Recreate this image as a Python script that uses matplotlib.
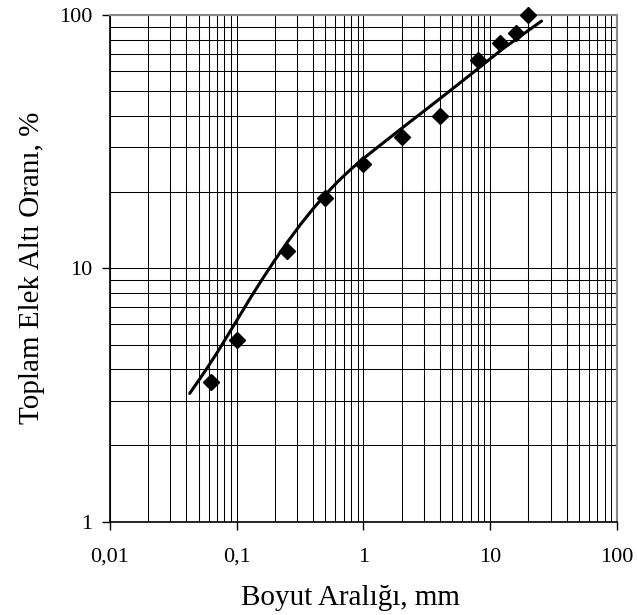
import matplotlib
matplotlib.use("Agg")
import matplotlib.pyplot as plt
from matplotlib.ticker import LogLocator, NullFormatter

plt.rcParams['font.family'] = ['Liberation Serif', 'DejaVu Serif']

# Measured data points (sieve size, cumulative passing %)
sizes_mm = [0.063, 0.1, 0.25, 0.5, 1, 2, 4, 8, 12, 16, 20]
passing_pct = [3.55, 5.2, 11.7, 19.0, 25.9, 32.9, 39.8, 66.4, 77.6, 84.6, 100]

# Fitted curve
curve_x = [0.04253, 0.05623, 0.07079, 0.1, 0.1259, 0.1585, 0.1995, 0.2512,
           0.3162, 0.3981, 0.5012, 0.6310, 0.7943, 1.0, 1.413, 1.995, 2.884,
           3.981, 5.623, 7.586, 10.0, 12.59, 17.78, 25.42]
curve_y = [3.204, 3.923, 4.683, 6.215, 7.523, 9.035, 10.75, 12.69,
           14.82, 17.12, 19.54, 22.05, 24.60, 27.13, 31.12, 35.64, 41.11,
           46.60, 53.37, 60.10, 67.14, 73.59, 83.30, 94.67]

x_ticks = [0.01, 0.1, 1, 10, 100]
x_tick_labels = ["0,01", "0,1", "1", "10", "100"]
y_ticks = [1, 10, 100]
y_tick_labels = ["1", "10", "100"]

fig = plt.figure(figsize=(6.38, 6.15), dpi=100)
ax = fig.add_axes([0.1724, 0.152, 0.7946, 0.8236])

ax.set_xscale('log')
ax.set_yscale('log')
ax.set_xlim(0.01, 100)
ax.set_ylim(1, 100)

ax.set_xticks(x_ticks)
ax.set_xticklabels(x_tick_labels)
ax.set_yticks(y_ticks)
ax.set_yticklabels(y_tick_labels)
ax.xaxis.set_minor_locator(LogLocator(base=10, subs=range(2, 10), numticks=20))
ax.yaxis.set_minor_locator(LogLocator(base=10, subs=range(2, 10), numticks=20))
ax.xaxis.set_minor_formatter(NullFormatter())
ax.yaxis.set_minor_formatter(NullFormatter())

ax.grid(True, which='both', color='black', linewidth=0.75)
ax.set_axisbelow(True)

ax.tick_params(which='major', direction='out', length=5.5, width=1, labelsize=16, colors='black')
ax.tick_params(axis='x', which='major', pad=13.5)
ax.tick_params(axis='y', which='major', pad=7)
ax.tick_params(which='minor', length=0)

for s in ['top', 'right']:
    ax.spines[s].set_color('#888888')
    ax.spines[s].set_linewidth(1.5)
for s in ['left', 'bottom']:
    ax.spines[s].set_color('black')
    ax.spines[s].set_linewidth(1.2)

ax.plot(curve_x, curve_y, color='black', linewidth=2.2, solid_capstyle='round',
        solid_joinstyle='round', zorder=3)
ax.plot(sizes_mm, passing_pct, linestyle='none', marker='D', markersize=8,
        color='black', zorder=4, clip_on=False)

ax.set_xlabel("Boyut Aralığı, mm", fontsize=21)
ax.xaxis.set_label_coords(0.474, -0.125)
ax.set_ylabel("Toplam Elek Altı Oranı, %", fontsize=21, labelpad=10)

fig.savefig("out.png", dpi=100)
